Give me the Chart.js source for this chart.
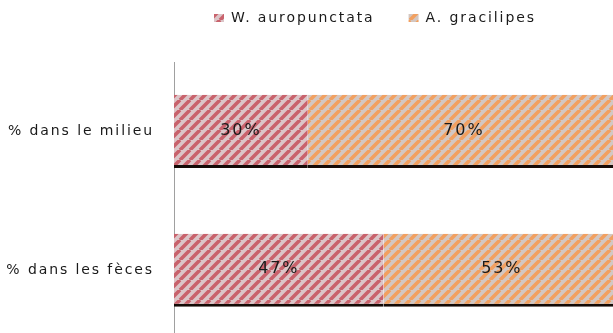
<!DOCTYPE html>
<html>
<head>
<meta charset="utf-8">
<script src="https://cdn.jsdelivr.net/npm/chart.js@4"></script>
<style>
  html, body { margin: 0; padding: 0; overflow: hidden; background: #fff; }
  #wrap { position: relative; width: 625px; height: 368px; }
</style>
</head>
<body>
<div id="wrap"><canvas id="c"></canvas></div>
<script>
// Share of each species, in the environment and in the faeces (percent)
const categories = ['% dans le milieu', '% dans les fèces'];
const seriesNames = ['W. auropunctata', 'A. gracilipes'];
const wAuropunctata = [30, 47];
const aGracilipes = [70, 53];

const FONT = 'DejaVu Sans';
const TEXT = '#1a1a1a';
const SPACING = '1.9px';

// Diagonal hatch fill ("/" stripes) for the bars and legend boxes
function stripes(bg, fg) {
  const s = 10;
  const tile = document.createElement('canvas');
  tile.width = s; tile.height = s;
  const g = tile.getContext('2d');
  g.fillStyle = bg;
  g.fillRect(0, 0, s, s);
  g.strokeStyle = fg;
  g.lineWidth = 3.6;
  g.beginPath();
  for (const o of [-s, 0, s]) { g.moveTo(o, s); g.lineTo(o + s, 0); }
  g.stroke();
  return g.createPattern(tile, 'repeat');
}

const redHatch = stripes('#dcc5c8', '#c9626c');
const orangeHatch = stripes('#d3c7c2', '#f2a060');

// Wide letter spacing and legend placement
const textLayout = {
  id: 'textLayout',
  beforeDraw(chart) {
    chart.ctx.letterSpacing = SPACING;
    const lg = chart.legend;
    lg.left = 214 - lg.options.labels.padding;
    lg.top = 11 - lg.options.labels.padding;
  }
};

// Percent value written in the middle of each segment
const valueLabels = {
  id: 'valueLabels',
  afterDatasetsDraw(chart) {
    const ctx = chart.ctx;
    ctx.save();
    ctx.letterSpacing = SPACING;
    ctx.font = '16px "' + FONT + '"';
    ctx.fillStyle = TEXT;
    ctx.textAlign = 'center';
    ctx.textBaseline = 'middle';
    chart.data.datasets.forEach((ds, i) => {
      chart.getDatasetMeta(i).data.forEach((bar, j) => {
        const p = bar.getProps(['x', 'y', 'base'], true);
        ctx.fillText(ds.data[j] + '%', (p.x + p.base) / 2, p.y - 1);
      });
    });
    ctx.restore();
  }
};

const barBorder = { top: 0, right: 0, bottom: 3, left: 0 };

new Chart(document.getElementById('c'), {
  type: 'bar',
  data: {
    labels: categories,
    datasets: [
      {
        label: seriesNames[0],
        data: wAuropunctata,
        backgroundColor: redHatch,
        borderColor: '#140a06',
        borderWidth: barBorder,
        borderSkipped: false,
        barPercentage: 0.527,
        categoryPercentage: 1
      },
      {
        label: seriesNames[1],
        data: aGracilipes,
        backgroundColor: orangeHatch,
        borderColor: '#140a06',
        borderWidth: barBorder,
        borderSkipped: false,
        barPercentage: 0.527,
        categoryPercentage: 1
      }
    ]
  },
  options: {
    indexAxis: 'y',
    responsive: true,
    maintainAspectRatio: false,
    animation: false,
    devicePixelRatio: 1,
    layout: { padding: { left: 0, right: 5, top: 4, bottom: 5 } },
    plugins: {
      legend: {
        position: 'top',
        align: 'start',
        labels: {
          font: { family: FONT, size: 14 },
          color: TEXT,
          boxWidth: 10,
          boxHeight: 8,
          padding: 34,
          generateLabels(chart) {
            const items = Chart.defaults.plugins.legend.labels.generateLabels(chart);
            items.forEach(it => { it.lineWidth = 0; it.strokeStyle = 'rgba(0,0,0,0)'; });
            return items;
          }
        }
      },
      tooltip: { enabled: false }
    },
    scales: {
      x: { stacked: true, min: 0, max: 100, display: false },
      y: {
        stacked: true,
        grid: { display: false, drawTicks: false },
        border: { display: true, color: '#a0a0a0', width: 1 },
        ticks: { font: { family: FONT, size: 14 }, color: TEXT, padding: 20 },
        afterFit(scale) { scale.width = 174; }
      }
    }
  },
  plugins: [textLayout, valueLabels]
});
</script>
</body>
</html>
